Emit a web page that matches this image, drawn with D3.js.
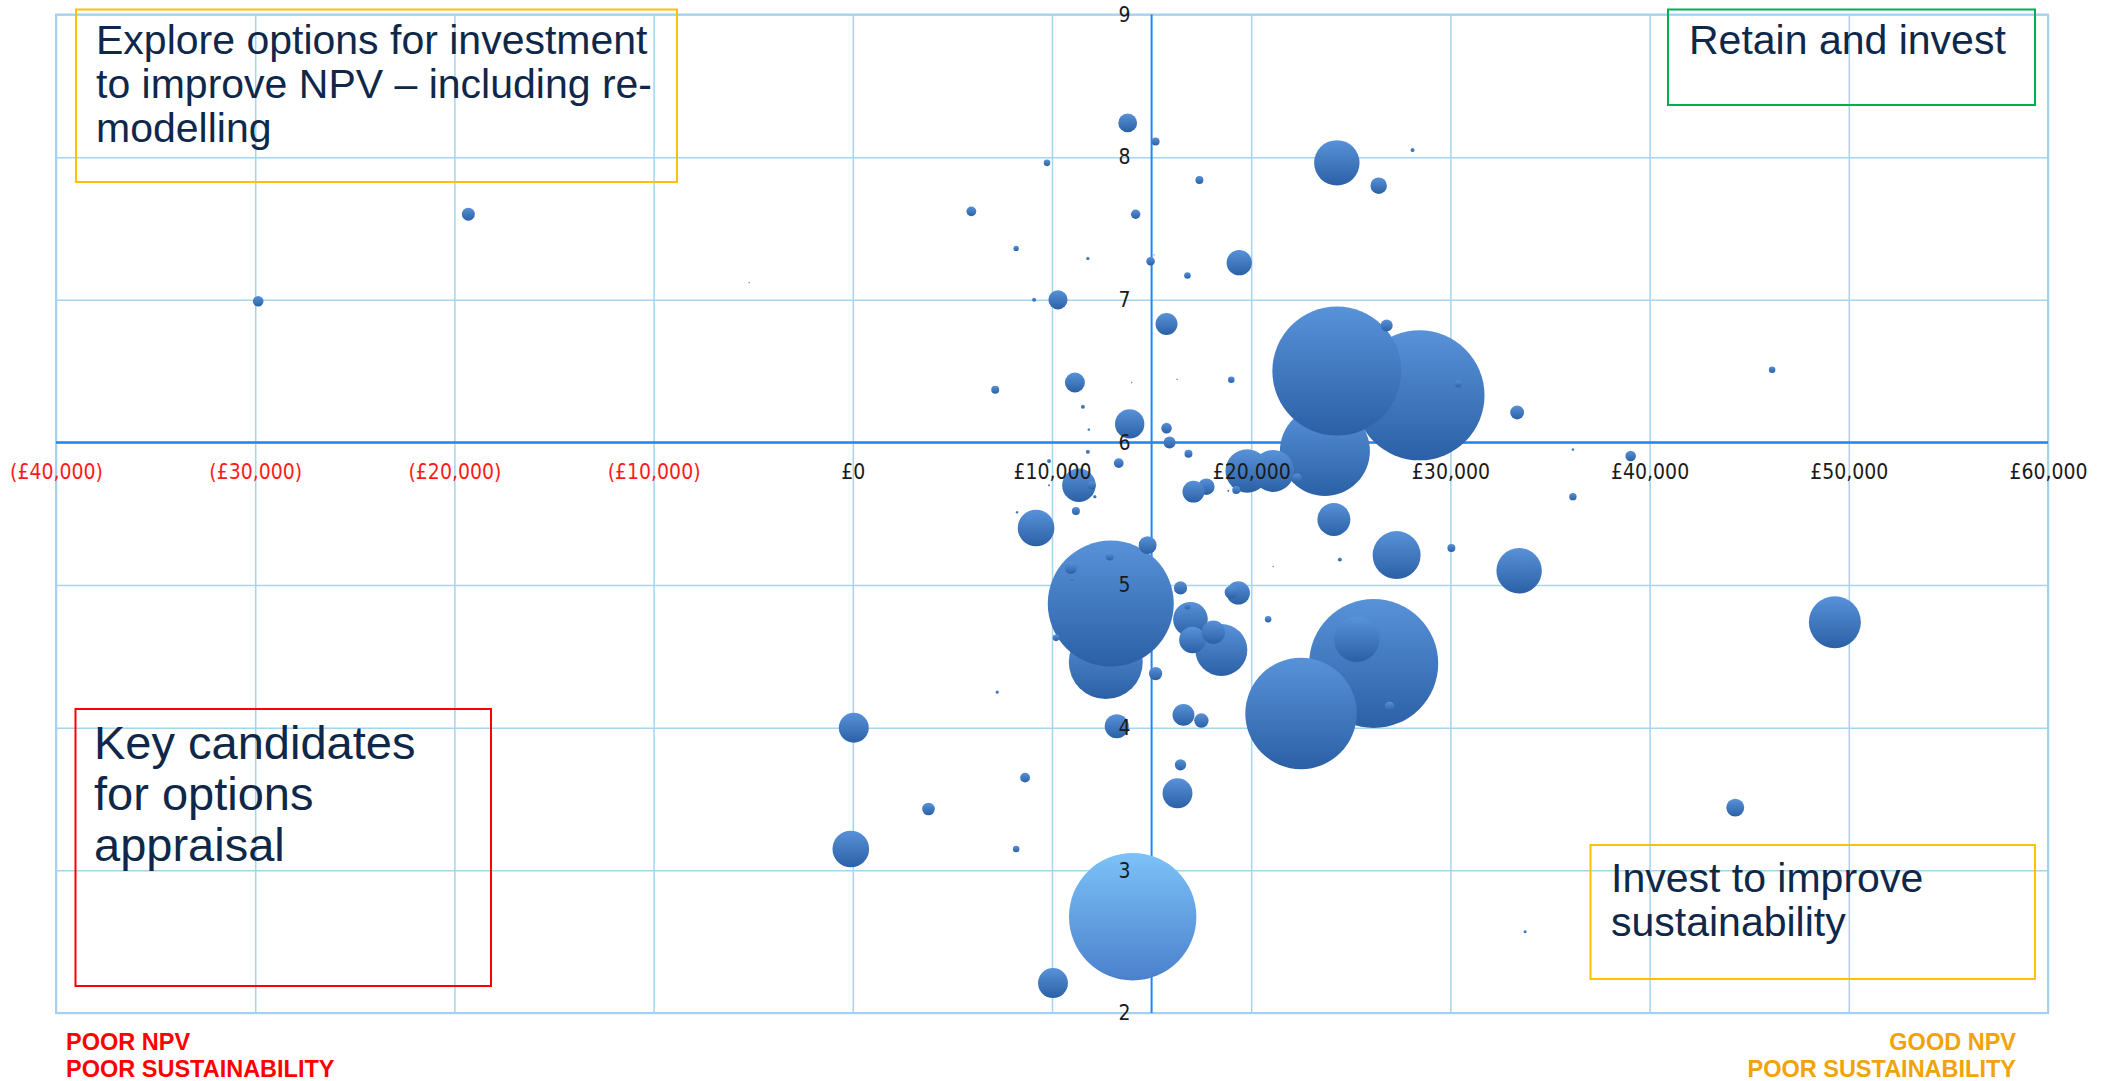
<!DOCTYPE html>
<html>
<head>
<meta charset="utf-8">
<script src="https://cdn.jsdelivr.net/npm/d3@7"></script>
<style>
  html, body { margin: 0; padding: 0; background: #ffffff; }
  svg { display: block; }
</style>
</head>
<body>
<svg id="chart" width="2110" height="1081"></svg>
<script>
// ---------------- DATA ----------------
// NPV per unit (£), sustainability score, bubble size (drawing order = array order)
const npv = [
  28450, 23700, 24300, 12700, 12950, 26150, 22500,
  18500, 49300, 27300, 24300, 33450, 25300, 19800, 21100,
  -100, 9200, 16950, 11350, 24150, 16300, 10050, 50, 13900,
  17050, 19400, 18100, 19350, 13250, 15750, 17750, 17100, 16600,
  11150, 10300, 13800, 14800, 44300, 26400, 17500, 33350,
  16450, 19000, 15200, -19300, 3800, 26800, 15900, 10950, 16450,
  15750, 39050, -29850, 13350, 8650, 5950, 14200, 22300, 26950,
  14950, 15200, 17400, 16850, 19250, 30050, 12000, 11200, 12900, 7150,
  36150, 30400, 9750, 16800, 19000, 10200, 20850, 8200, 46150, 16800,
  8200, 28100, 9100, 11550, 24450, 11800, 9850,
  11800, 12150, 7250, 11000, 33750, 11850, 36150, 8250, 18850, 9850,
  15125, 14000, 16280, 21100, -5200
];
const sustainability = [
  6.33, 5.94, 6.50, 4.46, 4.87, 4.45, 4.10,
  4.545, 4.74, 5.21, 7.96, 5.10, 4.62, 5.80, 5.80,
  3.15, 5.40, 4.76, 5.70, 5.46, 3.54, 2.21, 4.00, 6.13,
  4.615, 7.26, 4.67, 4.945, 4.01, 6.83, 5.69, 5.655, 4.09,
  6.42, 7.00, 8.24, 5.28, 3.44, 7.80, 4.05, 6.21,
  4.98, 4.95, 4.38, 7.60, 3.43, 6.82, 6.00, 5.12, 3.74,
  6.10, 5.905, 6.99, 5.855, 3.65, 7.62, 7.60, 5.75, 4.15,
  7.27, 8.11, 7.84, 5.92, 5.667, 5.26, 5.70, 5.52, 5.20, 6.37,
  5.62, 6.41, 7.96, 7.17, 6.44, 4.63, 4.76, 3.15, 6.51, 4.85,
  7.36, 8.05, 7.00, 6.25, 5.18, 5.935, 5.87,
  7.29, 5.62, 4.25, 5.04, 2.57, 6.09, 5.95, 5.51, 5.662, 5.70,
  7.315, 6.42, 6.443, 5.13, 7.12
];
const unitSize = [
  1056, 506, 1040, 342, 992, 1040, 776,
  169, 169, 144, 129, 129, 129, 118, 110,
  84, 84, 75, 70, 68, 56, 56, 56, 54,
  44, 40, 34, 34, 36, 30, 17, 30, 30,
  25, 23, 22, 20, 20, 17, 13, 12,
  11, 11, 11, 10.5, 10, 9, 9, 9, 8,
  7, 7, 7, 6, 6, 6, 5.5, 5.5, 5.5,
  4.6, 4, 4, 4, 4, 4, 4, 4, 4, 4,
  3.4, 3, 2.7, 2.7, 2.7, 2.7, 2.7, 2.7, 2.7, 2.3,
  1.8, 1, 1, 1, 1, 1, 1,
  0.7, 0.7, 0.7, 0.56, 0.56, 0.4, 0.4, 0.4, 0.25, 0.25,
  0.12, 0.12, 0.12, 0.12, 0.12
];

// highlighted scheme
const hlNpv = [14050];
const hlSustainability = [2.675];
const hlSize = [1014];

// axes
const xTicks = [-40000, -30000, -20000, -10000, 0, 10000, 20000, 30000, 40000, 50000, 60000];
const yTicks = [2, 3, 4, 5, 6, 7, 8, 9];
const xCross = 15000;   // vertical axis crosses at £15,000
const yCross = 6;       // horizontal axis crosses at 6

// quadrant annotations
const quadTL = ["Explore options for investment", "to improve NPV \u2013 including re-", "modelling"];
const quadTR = ["Retain and invest"];
const quadBL = ["Key candidates", "for options", "appraisal"];
const quadBR = ["Invest to improve", "sustainability"];
const cornerBL = ["POOR NPV", "POOR SUSTAINABILITY"];
const cornerBR = ["GOOD NPV", "POOR SUSTAINABILITY"];

// ---------------- CHART ----------------
const svg = d3.select("#chart");

const x = d3.scaleLinear().domain([-40000, 60000]).range([56, 2048]);
const y = d3.scaleLinear().domain([2, 9]).range([1013, 14.5]);
const r = d3.scaleSqrt().domain([0, 1000]).range([0, 63.25]);

const plotW = x.range()[1] - x.range()[0];
const plotH = y.range()[0] - y.range()[1];

// gradients
const defs = svg.append("defs");
function grad(id, top, bottom) {
  const g = defs.append("linearGradient").attr("id", id)
    .attr("x1", 0).attr("y1", 0).attr("x2", 0).attr("y2", 1);
  g.append("stop").attr("offset", "0%").attr("stop-color", top);
  g.append("stop").attr("offset", "100%").attr("stop-color", bottom);
}
grad("bubbleGrad", "#5892d8", "#2b60a6");
grad("hlGrad", "#7cc2f8", "#4b80cc");

const gridColor = "#a3d5ec";

// vertical gridlines
const gx = svg.append("g")
  .attr("transform", `translate(0,${y(2)})`)
  .call(d3.axisBottom(x).tickValues(xTicks).tickSize(-plotH).tickFormat(""));
gx.select(".domain").remove();
gx.selectAll("line").attr("stroke", gridColor).attr("stroke-width", 1.5);

// horizontal gridlines
const gy = svg.append("g")
  .attr("transform", `translate(${x(-40000)},0)`)
  .call(d3.axisLeft(y).tickValues(yTicks).tickSize(-plotW).tickFormat(""));
gy.select(".domain").remove();
gy.selectAll("line").attr("stroke", gridColor).attr("stroke-width", 1.5);

// plot border
svg.append("rect")
  .attr("x", x.range()[0]).attr("y", y.range()[1])
  .attr("width", plotW).attr("height", plotH)
  .attr("fill", "none").attr("stroke", "#a6d0f2").attr("stroke-width", 2);

// axis lines
const axisColor = "#1d87f2";
svg.append("line")
  .attr("x1", x(-40000)).attr("x2", x(60000))
  .attr("y1", y(yCross)).attr("y2", y(yCross))
  .attr("stroke", axisColor).attr("stroke-width", 2.5);
svg.append("line")
  .attr("x1", x(xCross)).attr("x2", x(xCross))
  .attr("y1", y(9)).attr("y2", y(2))
  .attr("stroke", axisColor).attr("stroke-width", 2);

// bubbles
const data = npv.map((v, i) => ({ x: v, y: sustainability[i], s: unitSize[i] }));
svg.append("g").selectAll("circle").data(data).join("circle")
  .attr("cx", d => x(d.x))
  .attr("cy", d => y(d.y))
  .attr("r", d => Math.max(0.6, r(d.s)))
  .attr("fill", "url(#bubbleGrad)");

const hlData = hlNpv.map((v, i) => ({ x: v, y: hlSustainability[i], s: hlSize[i] }));
svg.append("g").selectAll("circle").data(hlData).join("circle")
  .attr("cx", d => x(d.x))
  .attr("cy", d => y(d.y))
  .attr("r", d => r(d.s))
  .attr("fill", "url(#hlGrad)");

// tick labels (drawn over the bubbles)
const fmt = d3.format(",");
const tickFont = "'DejaVu Sans Condensed', 'DejaVu Sans', sans-serif";

const xl = svg.append("g")
  .attr("transform", `translate(0,${y(yCross)})`)
  .call(d3.axisBottom(x).tickValues(xTicks).tickSize(0).tickPadding(22)
    .tickFormat(d => d < 0 ? `(\u00a3${fmt(-d)})` : `\u00a3${fmt(d)}`));
xl.select(".domain").remove();
xl.selectAll("text")
  .attr("font-family", tickFont).attr("font-size", 21)
  .style("font-stretch", "condensed")
  .attr("fill", d => d < 0 ? "#ff1a1a" : "#1a1a1a");

const yl = svg.append("g")
  .attr("transform", `translate(${x(xCross)},0)`)
  .call(d3.axisLeft(y).tickValues(yTicks).tickSize(0).tickPadding(21).tickFormat(d3.format("d")));
yl.select(".domain").remove();
yl.selectAll("text")
  .attr("font-family", tickFont).attr("font-size", 21)
  .style("font-stretch", "condensed")
  .attr("fill", "#1a1a1a");

// quadrant annotation boxes
const annFont = "'Liberation Sans', Arial, sans-serif";
const navy = "#0f284a";
function box(x0, y0, x1, y1, color, lines, tx, ty0, lh, fs) {
  svg.append("rect")
    .attr("x", x0).attr("y", y0).attr("width", x1 - x0).attr("height", y1 - y0)
    .attr("fill", "none").attr("stroke", color).attr("stroke-width", 2);
  const t = svg.append("text")
    .attr("font-family", annFont).attr("font-size", fs).attr("fill", navy);
  lines.forEach((l, i) => {
    t.append("tspan").attr("x", tx).attr("y", ty0 + i * lh).text(l);
  });
}
box(76, 9.5, 677, 182, "#ffc000", quadTL, 96, 53.5, 44, 41);
box(1668, 9.5, 2035, 105, "#00b050", quadTR, 1689, 54, 44, 41);
box(75.5, 709, 491, 986, "#ff0000", quadBL, 94, 759, 51, 47);
box(1590.5, 845, 2035, 979, "#ffc000", quadBR, 1611, 892, 44, 41);

// corner labels
function corner(lines, tx, anchor, color) {
  const t = svg.append("text")
    .attr("font-family", annFont).attr("font-size", 23.5).attr("font-weight", "bold")
    .attr("fill", color).attr("text-anchor", anchor);
  lines.forEach((l, i) => {
    t.append("tspan").attr("x", tx).attr("y", 1050 + i * 27).text(l);
  });
}
corner(cornerBL, 66, "start", "#ff0000");
corner(cornerBR, 2016, "end", "#f0a30a");
</script>
</body>
</html>
